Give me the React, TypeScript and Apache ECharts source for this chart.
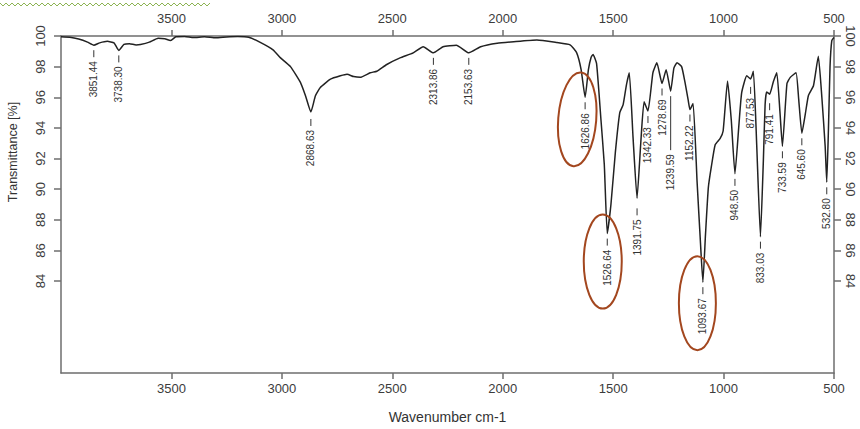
import React, { useEffect, useRef } from "react";
import * as echarts from "echarts";

// ---------------- data ----------------
const wavenumbers = [
  4000, 3960, 3920, 3880, 3851.44, 3825, 3790, 3760, 3738.3, 3715, 3690, 3660, 3640, 3600, 3560, 3530, 3505,
  3480, 3440, 3400, 3350, 3300, 3250, 3200, 3150, 3100, 3040, 3006, 2961, 2916, 2893, 2868.63, 2848, 2825,
  2780, 2735, 2705, 2675, 2645, 2600, 2570, 2525, 2465, 2405, 2360, 2313.86, 2270, 2210, 2153.63, 2100, 2025,
  1950, 1845, 1755, 1695, 1665, 1645, 1626.86, 1612, 1600, 1591, 1575, 1555, 1540, 1526.64, 1510, 1490, 1470,
  1455, 1440, 1427, 1410, 1391.75, 1375, 1360, 1342.33, 1320, 1302, 1278.69, 1260, 1239.59, 1225, 1211, 1190,
  1175, 1160, 1152.22, 1138, 1120, 1105, 1093.67, 1082, 1069, 1055, 1038, 1016, 1002, 982, 965, 948.5, 930,
  918, 895, 877.53, 865, 850, 833.03, 820, 812, 805, 791.41, 775, 759, 745, 733.59, 713, 698, 672, 660, 645.6,
  630, 616, 593, 571, 555, 540, 532.8, 525, 518, 510, 500,
];
const transmittance = [
  99.95, 99.92, 99.8, 99.6, 99.4, 99.55, 99.65, 99.55, 99.06, 99.45, 99.5, 99.42, 99.45, 99.6, 99.85, 99.82, 99.7,
  99.95, 99.97, 99.9, 99.95, 99.88, 99.94, 99.97, 99.92, 99.6, 99.1, 98.57, 98.0, 96.97, 96.1, 95.04, 96.1, 96.65,
  97.18, 97.4, 97.5, 97.35, 97.3, 97.6, 97.7, 98.14, 98.57, 98.9, 99.3, 98.9, 99.3, 99.4, 98.9, 99.3, 99.53,
  99.63, 99.74, 99.57, 99.42, 98.9, 97.8, 96.0, 97.8, 98.6, 98.8, 98.2, 94.5, 91.6, 87.1, 89.0, 92.4, 95.0,
  95.5, 96.8, 97.6, 93.4, 89.4, 93.0, 95.7, 95.1, 97.6, 98.25, 96.9, 97.8, 96.4, 97.9, 98.25, 98.0,
  97.0, 95.8, 95.2, 95.6, 90.5, 86.6, 83.93, 87.0, 90.1, 91.5, 92.9, 93.3, 93.8, 97.07, 94.5, 91.0, 94.3,
  96.3, 97.4, 97.2, 97.7, 92.9, 86.9, 91.8, 95.5, 96.35, 96.2, 97.0, 97.6, 95.1, 92.8, 96.9, 97.3, 97.6, 95.9, 93.65,
  94.9, 96.1, 96.75, 98.67, 96.0, 92.8, 90.45, 94.0, 98.0, 99.7, 99.9,
];
const peakLabels = [
  "3851.44", "3738.30", "2868.63", "2313.86", "2153.63", "1626.86", "1526.64", "1391.75", "1342.33", "1278.69",
  "1239.59", "1152.22", "1093.67", "948.50", "877.53", "833.03", "791.41", "733.59", "645.60", "532.80",
];
const circledPeaks = ["1626.86", "1526.64", "1093.67"];
const xTickValues = [3500, 3000, 2500, 2000, 1500, 1000, 500];
const yTickValues = [84, 86, 88, 90, 92, 94, 96, 98, 100];

// ---------------- styles ----------------
const FONT = "'Liberation Sans', Arial, sans-serif";
const leaderLength: Record<string, number> = { "1239.59": 54 };
const leaderGap: Record<string, number> = { "1391.75": 10, "877.53": 8, "791.41": 9, "2868.63": 7 };
const ellipseStyle: Record<string, { dx: number; dy: number; rx: number; ry: number; rot: number }> = {
  "1626.86": { dx: -8, dy: 22, rx: 19, ry: 47, rot: -0.08 },
  "1526.64": { dx: -4.5, dy: 28, rx: 19, ry: 47, rot: 0 },
  "1093.67": { dx: -5.5, dy: 21, rx: 18.5, ry: 47, rot: 0 },
};

function valueAt(wn: number): number {
  let best = 0;
  for (let i = 0; i < wavenumbers.length; i++) {
    if (Math.abs(wavenumbers[i] - wn) < Math.abs(wavenumbers[best] - wn)) best = i;
  }
  return transmittance[best];
}

const plain = (v: number) => String(v);

export default function App() {
  const ref = useRef<HTMLDivElement>(null);
  useEffect(() => {
    if (!ref.current) return;
    const chart = echarts.init(ref.current, null, { renderer: "svg" });
    const spectrum = wavenumbers.map((w, i) => [w, transmittance[i]]);
    const labelData = peakLabels.map((l, i) => [parseFloat(l), valueAt(parseFloat(l)), i]);
    const circleData = circledPeaks.map((l, i) => [parseFloat(l), valueAt(parseFloat(l)), i]);

    const axisLineStyle = { color: "#6e6e6e", width: 1.5 };
    const xAxisBase = {
      type: "value",
      min: 500,
      max: 4000,
      interval: 500,
      inverse: true,
      splitLine: { show: false },
      axisLine: { show: true, lineStyle: axisLineStyle },
      axisTick: { show: true, length: 6, lineStyle: axisLineStyle, customValues: xTickValues },
    };
    const yAxisBase = {
      type: "value",
      min: 78,
      max: 100,
      interval: 2,
      splitLine: { show: false },
      axisLine: { show: true, lineStyle: axisLineStyle },
      axisTick: { show: true, length: 7, lineStyle: axisLineStyle, customValues: yTickValues },
    };
    const labelBase = { fontSize: 13, color: "#3c3c3c", fontFamily: FONT, formatter: plain };

    const squiggle: number[][] = [];
    for (let i = 0; i <= 70; i++) squiggle.push([i * 3, i % 2 === 0 ? 3 : 6]);

    chart.setOption({
      animation: false,
      backgroundColor: "#ffffff",
      grid: { left: 61, top: 36, width: 773, height: 345 },
      xAxis: [
        {
          ...xAxisBase,
          position: "bottom",
          name: "Wavenumber cm-1",
          nameLocation: "middle",
          nameGap: 37,
          nameTextStyle: { fontSize: 14, color: "#333", fontFamily: FONT },
          axisLabel: { ...labelBase, customValues: xTickValues, margin: 9 },
        },
        {
          ...xAxisBase,
          position: "top",
          axisLabel: { ...labelBase, customValues: xTickValues, margin: 11 },
        },
      ],
      yAxis: [
        {
          ...yAxisBase,
          position: "left",
          axisLabel: { ...labelBase, customValues: yTickValues, rotate: 90, margin: 14 },
        },
        {
          ...yAxisBase,
          position: "right",
          axisLabel: { ...labelBase, customValues: yTickValues, rotate: -90, margin: 10 },
        },
      ],
      graphic: [
        {
          type: "text",
          x: 13,
          y: 152,
          rotation: Math.PI / 2,
          style: { text: "Transmittance [%]", fontSize: 12.5, fontFamily: FONT, fill: "#333", align: "center", verticalAlign: "middle" },
        },
        {
          type: "polyline",
          shape: { points: squiggle },
          style: { stroke: "#8db453", lineWidth: 1, fill: "none" },
        },
      ],
      series: [
        {
          type: "line",
          data: spectrum,
          showSymbol: false,
          symbol: "none",
          lineStyle: { color: "#222222", width: 1.5 },
          smooth: 0.15,
          z: 2,
        },
        {
          type: "custom",
          data: labelData,
          z: 3,
          renderItem: (params: any, api: any) => {
            const label = peakLabels[api.value(2)];
            const p = api.coord([api.value(0), api.value(1)]);
            const gap = leaderGap[label] ?? 5;
            const len = leaderLength[label] ?? 7;
            const y0 = p[1] + gap;
            const y1 = y0 + len;
            return {
              type: "group",
              children: [
                { type: "line", shape: { x1: p[0], y1: y0, x2: p[0], y2: y1 }, style: { stroke: "#333", lineWidth: 1 } },
                {
                  type: "text",
                  x: p[0],
                  y: y1 + 4,
                  rotation: Math.PI / 2,
                  style: { text: label, fontSize: 10, fontFamily: FONT, fill: "#333", align: "right", verticalAlign: "middle" },
                },
              ],
            };
          },
        },
        {
          type: "custom",
          data: circleData,
          z: 4,
          renderItem: (params: any, api: any) => {
            const label = circledPeaks[api.value(2)];
            const s = ellipseStyle[label];
            const p = api.coord([api.value(0), api.value(1)]);
            const cx = p[0] + s.dx;
            const cy = p[1] + s.dy;
            return {
              type: "ellipse",
              shape: { cx, cy, rx: s.rx, ry: s.ry },
              originX: cx,
              originY: cy,
              rotation: s.rot,
              style: { fill: "none", stroke: "#a3471f", lineWidth: 2 },
            };
          },
        },
      ],
    });
    return () => chart.dispose();
  }, []);
  return <div ref={ref} style={{ position: "fixed", left: 0, top: 0, width: 860, height: 429 }} />;
}
